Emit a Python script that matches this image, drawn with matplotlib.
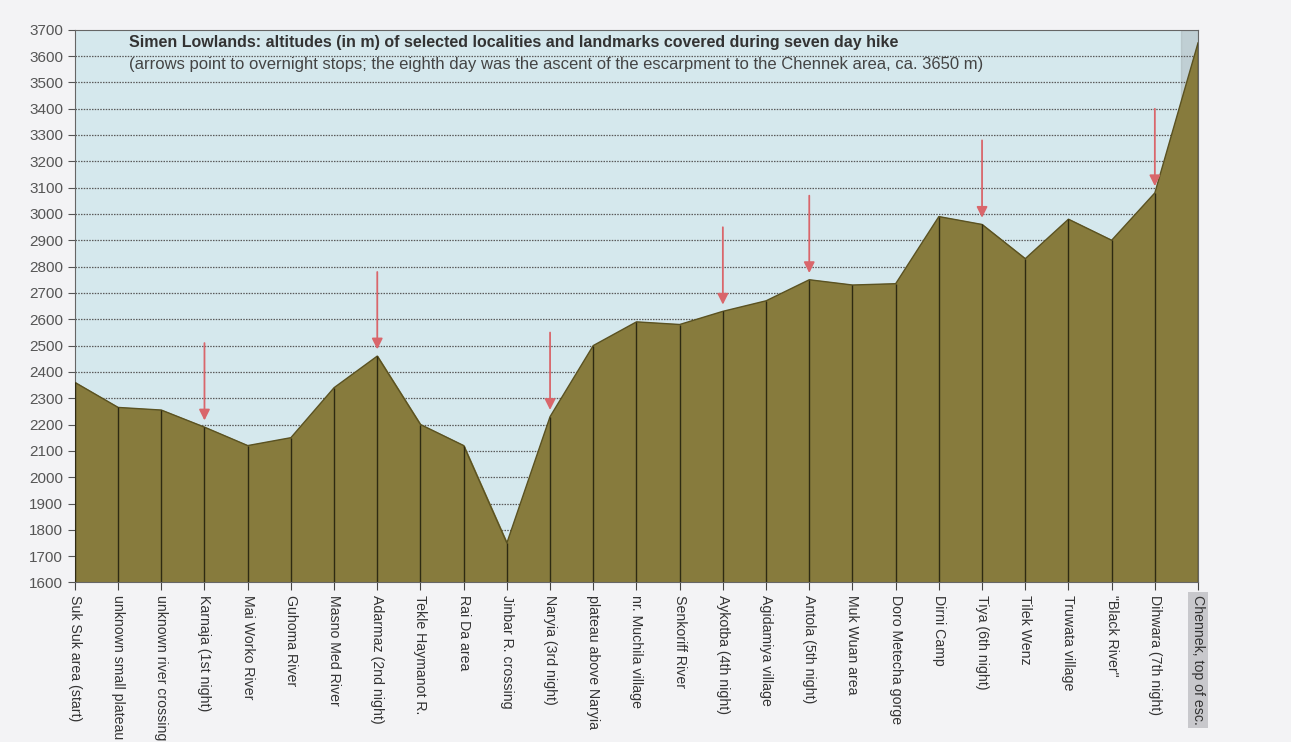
import matplotlib.pyplot as plt

plt.rcParams['font.family'] = ['Liberation Sans', 'DejaVu Sans']

# places along the hike and altitudes in m
places = [
    "Suk Suk area (start)", "unknown small plateau", "unknown river crossing",
    "Karnaja (1st night)", "Mai Worko River", "Guhoma River", "Masno Med River",
    "Adarmaz (2nd night)", "Tekle Haymanot R.", "Rai Da area", "Jinbar R. crossing",
    "Naryia (3rd night)", "plateau above Naryia", "nr. Muchila village",
    "Senkoriff River", "Aykotba (4th night)", "Agidamiya village",
    "Antola (5th night)", "Muk Wuan area", "Doro Metecha gorge", "Dirni Camp",
    "Tiya (6th night)", "Tilek Wenz", "Truwata village", "\"Black River\"",
    "Dihwara (7th night)", "Chennek, top of esc.",
]
altitude = [2360, 2265, 2255, 2190, 2120, 2150, 2340, 2460, 2200, 2120, 1750,
            2230, 2500, 2590, 2580, 2630, 2670, 2750, 2730, 2735, 2990,
            2960, 2830, 2980, 2900, 3080, 3650]
# overnight stops (index into places)
nights = [3, 7, 11, 15, 17, 21, 25]

yticks = list(range(1600, 3701, 100))

fig = plt.figure(figsize=(12.91, 7.42), dpi=100, facecolor="#f3f3f5")
ax = fig.add_axes([0.058, 0.215, 0.87, 0.745])
ax.set_facecolor("#d5e8ed")

x = list(range(len(places)))
ax.fill_between(x, 1600, altitude, color="#877b3d", zorder=2)
ax.plot(x, altitude, color="#5a5222", lw=1, zorder=3)
ax.vlines(x, 1600, altitude, color="#2e2a12", lw=1, zorder=3)

# last category highlighted (grey band)
ax.axvspan(len(places) - 1.4, len(places) - 1, color="#9aa3a6", alpha=0.35, zorder=1)

for y in yticks[1:-1]:
    ax.axhline(y, color="#5a5a5a", lw=0.9, ls=(0, (1.2, 1)), zorder=1)

# arrows to overnight stops
for i in nights:
    ax.annotate("", xy=(i, altitude[i] + 15), xytext=(i, altitude[i] + 330),
                arrowprops=dict(arrowstyle="-|>", color="#d9666b", lw=1.3,
                                mutation_scale=16), zorder=4)

ax.set_xlim(0, len(places) - 1)
ax.set_ylim(1600, 3700)
ax.set_yticks(yticks)
ax.set_xticks(x)
ax.set_xticklabels(places, rotation=270, ha="center", va="top", fontsize=10.2,
                   color="#333333")
ax.get_xticklabels()[-1].set_bbox(dict(facecolor="#c8c8cc", edgecolor="none", pad=2))
ax.tick_params(axis="y", labelsize=11, colors="#555555", length=5, direction="out")
ax.tick_params(axis="x", length=6, color="#444444", pad=3)
for s in ax.spines.values():
    s.set_color("#666666")

ax.text(0.048, 0.99, "Simen Lowlands: altitudes (in m) of selected localities and landmarks "
        "covered during seven day hike", transform=ax.transAxes, fontsize=11.5,
        fontweight="bold", color="#333333", va="top", ha="left")
ax.text(0.048, 0.95, "(arrows point to overnight stops; the eighth day was the ascent of the "
        "escarpment to the Chennek area, ca. 3650 m)", transform=ax.transAxes,
        fontsize=12, color="#444444", va="top", ha="left")

fig.savefig("out.png", dpi=100, facecolor=fig.get_facecolor())
